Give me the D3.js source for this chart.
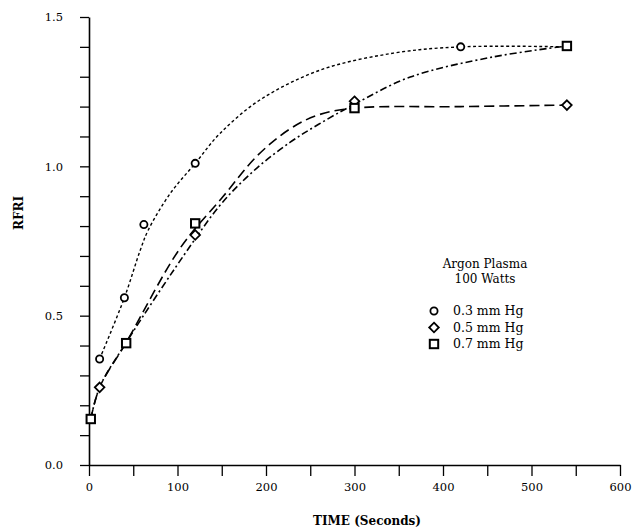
<!DOCTYPE html>
<html><head><meta charset="utf-8">
<script src="https://cdn.jsdelivr.net/npm/d3@7"></script>
<style>body{margin:0;background:#fff}svg{display:block}text{font-family:"DejaVu Serif",serif;fill:#000}</style>
</head><body><svg id="c" width="635" height="529"></svg>
<script>
// Measured markers
const circles03 = [[12,0.355],[40,0.56],[62,0.805],[120,1.01],[420,1.40]];
const diamonds05 = [[12,0.26],[120,0.77],[300,1.218],[540,1.205]];
const squares07 = [[2,0.154],[42,0.408],[120,0.809],[300,1.195],[540,1.403]];
// Fitted curves
const curveDotted = [[12,0.355],[40,0.56],[58,0.72],[67,0.787],[92,0.91],[120,1.01],[148,1.11],[193,1.222],[261,1.322],[344,1.379],[420,1.40],[540,1.40]];
const curveDashed = [[2,0.154],[12,0.26],[42,0.41],[103,0.726],[151,0.897],[190,1.035],[227,1.125],[259,1.172],[300,1.195],[420,1.20],[540,1.205]];
const curveDashDot = [[2,0.154],[12,0.26],[42,0.41],[116,0.74],[151,0.88],[190,0.995],[227,1.08],[259,1.14],[300,1.208],[363,1.299],[456,1.366],[540,1.403]];
const xTicks = [0,50,100,150,200,250,300,350,400,450,500,550,600];
const yTicks = [0,0.1,0.2,0.3,0.4,0.5,0.6,0.7,0.8,0.9,1.0,1.1,1.2,1.3,1.4,1.5];
const legendTitle = ["Argon Plasma","100 Watts"];
const legendItems = ["0.3 mm Hg","0.5 mm Hg","0.7 mm Hg"];

const svg = d3.select("#c");
const x = d3.scaleLinear().domain([0,600]).range([89,620]);
const y = d3.scaleLinear().domain([0,1.5]).range([465,17]);

const xa = svg.append("g").attr("transform","translate(0,465)")
  .call(d3.axisBottom(x).tickValues(xTicks).tickSize(11).tickSizeOuter(0).tickPadding(5)
    .tickFormat(d => d % 100 === 0 ? d : ""));
const ya = svg.append("g").attr("transform","translate(89,0)")
  .call(d3.axisLeft(y).tickValues(yTicks).tickSize(9).tickSizeOuter(0).tickPadding(17)
    .tickFormat(d => Math.abs((d*10) % 5) < 1e-6 ? d3.format(".1f")(d) : ""));
[xa,ya].forEach(a=>{
  a.selectAll("path").attr("stroke","#000").attr("stroke-width",1.6);
  a.selectAll("line").attr("stroke","#000").attr("stroke-width",1.3);
  a.selectAll("text").attr("font-size",11.5).attr("font-family","DejaVu Serif");
});
xa.selectAll("text").attr("dy","0.9em");

svg.append("text").attr("x",367).attr("y",525).attr("text-anchor","middle")
  .attr("font-weight","bold").attr("font-size",12).text("TIME (Seconds)");
svg.append("text").attr("transform","translate(23,213) rotate(-90)").attr("text-anchor","middle")
  .attr("font-weight","bold").attr("font-size",12).text("RFRI");

const line = d3.line().x(d=>x(d[0])).y(d=>y(d[1])).curve(d3.curveCatmullRom.alpha(0.5));
svg.append("path").datum(curveDotted).attr("d",line).attr("fill","none").attr("stroke","#000")
  .attr("stroke-width",1.4).attr("stroke-dasharray","3,2.5");
svg.append("path").datum(curveDashed).attr("d",line).attr("fill","none").attr("stroke","#000")
  .attr("stroke-width",1.6).attr("stroke-dasharray","10,5");
svg.append("path").datum(curveDashDot).attr("d",line).attr("fill","none").attr("stroke","#000")
  .attr("stroke-width",1.6).attr("stroke-dasharray","7,3,2,3");

function circ(g,cx,cy){g.append("circle").attr("cx",cx).attr("cy",cy).attr("r",3.6).attr("fill","#fff").attr("stroke","#000").attr("stroke-width",1.8);}
function diam(g,cx,cy){g.append("path").attr("d",`M${cx},${cy-4.8}L${cx+4.8},${cy}L${cx},${cy+4.8}L${cx-4.8},${cy}Z`).attr("fill","#fff").attr("stroke","#000").attr("stroke-width",1.8);}
function sq(g,cx,cy){g.append("rect").attr("x",cx-4.2).attr("y",cy-4.2).attr("width",8.4).attr("height",8.4).attr("fill","#fff").attr("stroke","#000").attr("stroke-width",2);}

const mg = svg.append("g");
circles03.forEach(d=>circ(mg,x(d[0]),y(d[1])));
diamonds05.forEach(d=>diam(mg,x(d[0]),y(d[1])));
squares07.forEach(d=>sq(mg,x(d[0]),y(d[1])));

const lg = svg.append("g");
legendTitle.forEach((t,i)=>lg.append("text").attr("x",485).attr("y",268+i*15).attr("text-anchor","middle").attr("font-size",12).text(t));
const makers=[circ,diam,sq];
legendItems.forEach((t,i)=>{
  const cy = 311 + i*16.5;
  makers[i](lg,434,cy);
  lg.append("text").attr("x",453).attr("y",cy+4).attr("font-size",12.5).text(t);
});
</script></body></html>
